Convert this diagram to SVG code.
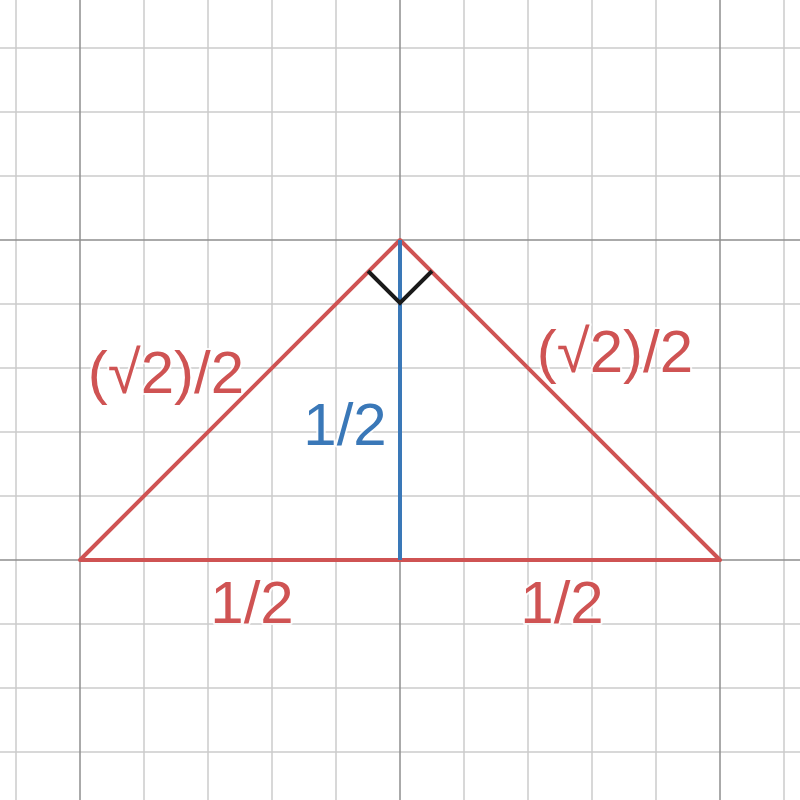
<svg xmlns="http://www.w3.org/2000/svg" width="800" height="800" viewBox="0 0 800 800">
<style>
.minor{stroke:#cbcbcb;stroke-width:1.5;fill:none}
.major{stroke:#8f8f8f;stroke-width:1.5;fill:none}
.red{stroke:#cf5353;stroke-width:4;fill:none;stroke-linecap:round;stroke-linejoin:round}
.blue{stroke:#3a78b8;stroke-width:4;fill:none}
.lbl{font-family:"Liberation Sans",Arial,sans-serif;font-size:60px;text-anchor:middle;stroke:#fff;stroke-width:4;stroke-opacity:0.8;paint-order:stroke;stroke-linejoin:round}
</style>
<rect width="800" height="800" fill="#fff"/>
<g id="grid">
<path class="minor" d="M16 0V800M144 0V800M208 0V800M272 0V800M336 0V800M464 0V800M528 0V800M592 0V800M656 0V800M784 0V800M0 48H800M0 112H800M0 176H800M0 304H800M0 368H800M0 432H800M0 496H800M0 624H800M0 688H800M0 752H800"/>
<path class="major" d="M80 0V800M400 0V800M720 0V800M0 240H800M0 560H800"/>
</g>
<g id="triangle">
<polygon class="red" points="80,560 400,240 720,560"/>
</g>
<g id="connectors">
<line class="blue" x1="400" y1="240" x2="400" y2="560"/>
<polyline points="368,271 400,303 432,271" fill="none" stroke="#1a1a1a" stroke-width="4"/>
</g>
<g id="labels">
<text class="lbl" x="166" y="393" fill="#cf5353">(√2)/2</text>
<text class="lbl" x="615" y="372" fill="#cf5353">(√2)/2</text>
<text class="lbl" x="345" y="445" fill="#3a78b8">1/2</text>
<text class="lbl" x="252" y="623" fill="#cf5353">1/2</text>
<text class="lbl" x="562" y="623" fill="#cf5353">1/2</text>
</g>
</svg>
